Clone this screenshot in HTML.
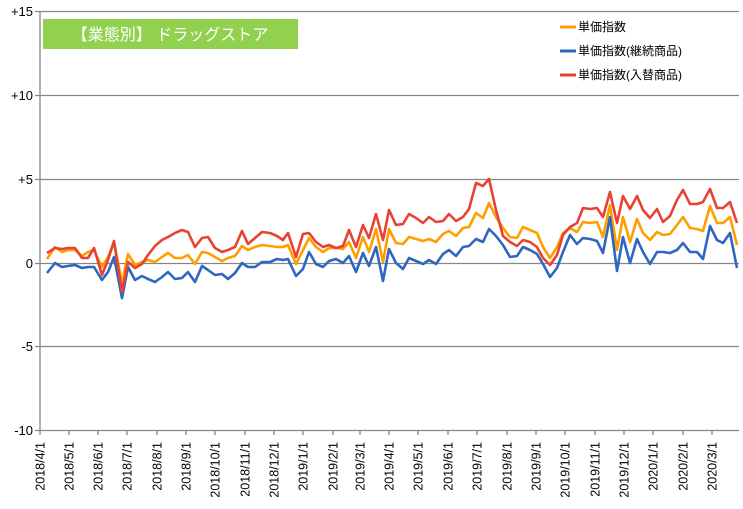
<!DOCTYPE html>
<html><head><meta charset="utf-8"><style>
body{margin:0;background:#fff;}
svg{display:block;font-family:"Liberation Sans","Noto Sans CJK JP",sans-serif;}
</style></head><body>
<svg width="743" height="509" viewBox="0 0 743 509" xmlns="http://www.w3.org/2000/svg">
<rect width="743" height="509" fill="#fff"/>
<g stroke="#868686" stroke-width="1.3" fill="none">
<line x1="35" y1="11.5" x2="739" y2="11.5"/>
<line x1="35" y1="95.5" x2="739" y2="95.5"/>
<line x1="35" y1="179.5" x2="739" y2="179.5"/>
<line x1="35" y1="263.5" x2="739" y2="263.5"/>
<line x1="35" y1="346.5" x2="739" y2="346.5"/>
<line x1="35" y1="430.5" x2="739" y2="430.5"/>
<line x1="40" y1="11" x2="40" y2="431"/>
<path d="M40 430v5M69 430v5M98 430v5M127 430v5M157 430v5M186 430v5M215 430v5M245 430v5M274 430v5M303 430v5M333 430v5M360 430v5M389 430v5M418 430v5M448 430v5M477 430v5M507 430v5M536 430v5M565 430v5M595 430v5M624 430v5M653 430v5M683 430v5M712 430v5"/>
</g>
<g font-size="13" fill="#000" text-anchor="end">
<text x="33" y="16">+15</text><text x="33" y="100">+10</text><text x="33" y="184">+5</text>
<text x="33" y="268">0</text><text x="33" y="351">-5</text><text x="33" y="435">-10</text>
</g>
<g font-size="12.5" fill="#000" text-anchor="end">
<text transform="translate(44.5,442) rotate(-90)">2018/4/1</text>
<text transform="translate(73.5,442) rotate(-90)">2018/5/1</text>
<text transform="translate(102.5,442) rotate(-90)">2018/6/1</text>
<text transform="translate(131.5,442) rotate(-90)">2018/7/1</text>
<text transform="translate(161.5,442) rotate(-90)">2018/8/1</text>
<text transform="translate(190.5,442) rotate(-90)">2018/9/1</text>
<text transform="translate(219.5,442) rotate(-90)">2018/10/1</text>
<text transform="translate(249.5,442) rotate(-90)">2018/11/1</text>
<text transform="translate(278.5,442) rotate(-90)">2018/12/1</text>
<text transform="translate(307.5,442) rotate(-90)">2019/1/1</text>
<text transform="translate(337.5,442) rotate(-90)">2019/2/1</text>
<text transform="translate(364.5,442) rotate(-90)">2019/3/1</text>
<text transform="translate(393.5,442) rotate(-90)">2019/4/1</text>
<text transform="translate(422.5,442) rotate(-90)">2019/5/1</text>
<text transform="translate(452.5,442) rotate(-90)">2019/6/1</text>
<text transform="translate(481.5,442) rotate(-90)">2019/7/1</text>
<text transform="translate(511.5,442) rotate(-90)">2019/8/1</text>
<text transform="translate(540.5,442) rotate(-90)">2019/9/1</text>
<text transform="translate(569.5,442) rotate(-90)">2019/10/1</text>
<text transform="translate(599.5,442) rotate(-90)">2019/11/1</text>
<text transform="translate(628.5,442) rotate(-90)">2019/12/1</text>
<text transform="translate(657.5,442) rotate(-90)">2020/1/1</text>
<text transform="translate(687.5,442) rotate(-90)">2020/2/1</text>
<text transform="translate(716.5,442) rotate(-90)">2020/3/1</text>
</g>
<g fill="none" stroke-width="2.6" stroke-linejoin="round">
<polyline stroke="#FF9E00" points="47,259 55,247 62,252 68,250 75,250 82,256 88,252 94,250 102,267 108,257 114,242 122,283 128,254 135,265 142,262 148,260 155,262 162,257 168,253 175,258 182,258 188,255 195,264 202,252 208,253 215,257 222,261 228,258 235,256 242,246 248,250 255,247 262,245 270,246 277,247 283,247 288,245 296,264 303,250 309,238 316,247 323,252 329,248 336,248 343,249 349,242 356,258 363,237 369,252 376,229 383,262 389,229 396,243 403,244 409,237 416,239 423,241 429,239 436,242 443,234 449,231 456,236 463,228 469,227 476,213 483,218 489,203 496,217 503,228 510,237 517,238 523,227 530,230 537,233 543,247 550,258 557,247 563,233 570,228 577,232 583,222 590,223 597,222 603,237 610,205 617,250 623,217 630,242 637,219 643,233 650,240 657,232 663,235 670,234 677,225 683,217 690,228 697,229 703,231 710,206 717,223 723,223 730,217 737,245"/>
<polyline stroke="#2F66C0" points="47,273 55,263 62,267 68,266 75,265 82,268 88,267 94,267 102,280 108,272 114,257 122,298 128,267 135,280 142,276 148,279 155,282 162,277 168,272 175,279 182,278 188,272 195,282 202,266 208,270 215,275 222,274 228,279 235,273 242,263 248,267 255,267 262,262 270,262 277,259 283,260 288,259 296,276 303,269 309,252 316,264 323,267 329,261 336,259 343,263 349,256 356,272 363,253 369,266 376,247 383,281 389,249 396,263 403,269 409,258 416,261 423,264 429,260 436,264 443,254 449,250 456,256 463,247 469,246 476,239 483,242 489,229 496,236 503,245 510,257 517,256 523,247 530,250 537,254 543,264 550,277 557,268 563,252 570,235 577,244 583,238 590,239 597,241 603,253 610,217 617,271 623,237 630,263 637,239 643,252 650,264 657,252 663,252 670,253 677,250 683,243 690,252 697,252 703,259 710,226 717,240 723,243 730,233 737,268"/>
<polyline stroke="#E84234" points="47,253 55,248 62,249 68,248 75,248 82,258 88,258 94,248 102,275 108,260 114,241 122,292 128,262 135,268 142,264 148,255 155,246 162,240 168,237 175,233 182,230 188,232 195,247 202,238 208,237 215,248 222,252 228,250 235,247 242,231 248,244 255,238 262,232 270,233 277,236 283,240 288,233 296,257 303,234 309,233 316,242 323,247 329,245 336,248 343,246 349,230 356,247 363,225 369,238 376,214 383,240 389,210 396,225 403,224 409,214 416,218 423,223 429,217 436,222 443,221 449,214 456,221 463,217 469,209 476,183 483,186 489,179 496,210 503,236 510,242 517,246 523,240 530,242 537,247 543,258 550,265 557,255 563,235 570,227 577,223 583,208 590,209 597,208 603,217 610,192 617,223 623,196 630,209 637,196 643,210 650,218 657,209 663,222 670,216 677,200 683,190 690,204 697,204 703,202 710,189 717,208 723,208 730,202 737,223"/>
</g>
<rect x="43" y="19" width="255" height="30" fill="#92D050"/>
<text x="170" y="40" font-size="16" fill="#fff" text-anchor="middle">【業態別】 ドラッグストア</text>
<g stroke-width="3">
<line x1="560" y1="27" x2="576" y2="27" stroke="#FF9E00"/>
<line x1="560" y1="51" x2="576" y2="51" stroke="#2F66C0"/>
<line x1="560" y1="75" x2="576" y2="75" stroke="#E84234"/>
</g>
<g font-size="12" fill="#000">
<text x="578" y="31">単価指数</text>
<text x="578" y="55">単価指数(継続商品)</text>
<text x="578" y="79">単価指数(入替商品)</text>
</g>
</svg>
</body></html>
